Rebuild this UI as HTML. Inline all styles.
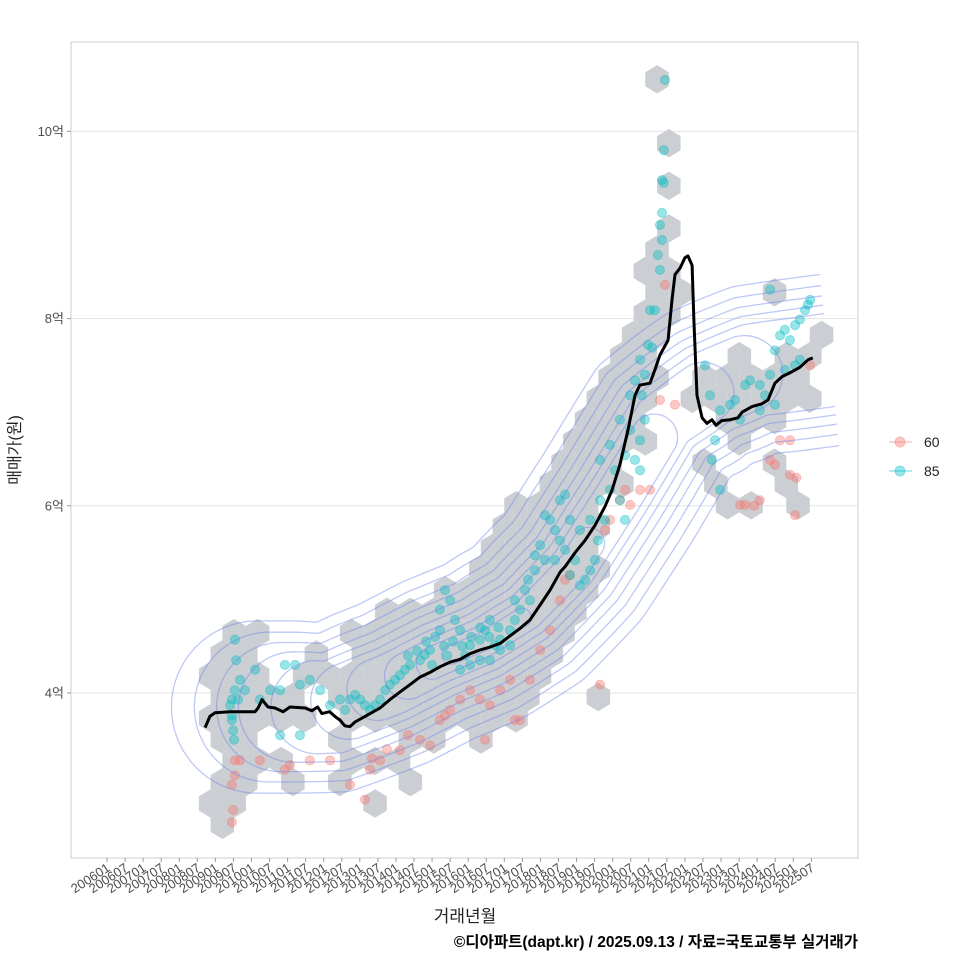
<!DOCTYPE html>
<html><head><meta charset="utf-8">
<style>
html,body{margin:0;padding:0;background:#fff;}
svg{display:block;font-family:"Liberation Sans","Noto Sans CJK KR",sans-serif;}
</style></head>
<body>
<svg id="chart" width="960" height="960" viewBox="0 0 960 960" xmlns="http://www.w3.org/2000/svg">
<defs><clipPath id="clip"><rect x="71" y="42" width="787" height="816"/></clipPath></defs>
<rect x="71" y="42" width="787" height="816" fill="#fff" stroke="#cccccc" stroke-width="1"/>
<g id="grid"></g>
<g id="marks" clip-path="url(#clip)"><g id="hexes"></g><g id="pts"></g><g id="contours"></g><g id="trend"></g></g>
<g id="axes"></g>
<text transform="translate(20,450) rotate(-90)" text-anchor="middle" font-size="16" fill="#222">매매가(원)</text>
<text x="465" y="922" text-anchor="middle" font-size="17" fill="#222">거래년월</text>
<text x="858" y="947" text-anchor="end" font-size="15.5" font-weight="bold" fill="#000">©디아파트(dapt.kr) / 2025.09.13 / 자료=국토교통부 실거래가</text>
<g>
  <g>
    <line x1="889" y1="442" x2="912" y2="442" stroke="#F8766D" stroke-opacity="0.4" stroke-width="1.5"/>
    <circle cx="900" cy="442" r="5" fill="#F8766D" fill-opacity="0.4" stroke="#F8766D" stroke-opacity="0.4"/>
    <text x="924" y="447" font-size="14" fill="#222">60</text>
  </g>
  <g>
    <line x1="889" y1="471" x2="912" y2="471" stroke="#00BFC4" stroke-opacity="0.4" stroke-width="1.5"/>
    <circle cx="900" cy="471" r="5" fill="#00BFC4" fill-opacity="0.4" stroke="#00BFC4" stroke-opacity="0.4"/>
    <text x="924" y="476" font-size="14" fill="#222">85</text>
  </g>
</g>
</svg>
<script>
// ---- data (months since 2006-01, price in 억) ----
const yTicks = [4, 6, 8, 10];
const yTickLabels = ["4억", "6억", "8억", "10억"];
const xTickMonths = Array.from({length: 40}, (_, i) => i * 6);
const xTickLabels = xTickMonths.map(m => String(2006 + Math.floor(m / 12)) + (m % 12 === 0 ? "01" : "07"));

const trendM = [32.6,34.2,35.9,40.9,49.2,50.2,51.5,53.5,55.8,58.5,60.8,65.8,68,70,71.4,74,75.7,77.4,79,80.7,82.4,85.7,90.7,94,97.3,100.7,104,107.3,110.6,114,117.3,120.6,124,127.2,130.6,133.9,137.2,140.5,143.9,147.2,150.5,152.2,155.5,158.8,162.1,165.4,167.8,170.4,173.1,175.4,177,180.4,182,183.7,186.4,187.7,188.7,190.4,192,193,194.4,195,196,197.7,199.3,201,202.3,204.3,207,209.6,211,214.3,217.6,219.6,221.9,224.3,226.8,230.2,232.9,234.5];
const trendV = [3.63,3.75,3.79,3.80,3.80,3.84,3.93,3.85,3.84,3.80,3.85,3.84,3.81,3.85,3.78,3.80,3.75,3.71,3.65,3.64,3.69,3.75,3.84,3.93,4.01,4.09,4.17,4.22,4.28,4.33,4.36,4.42,4.46,4.49,4.53,4.61,4.69,4.78,4.94,5.10,5.29,5.35,5.50,5.63,5.79,5.99,6.17,6.44,6.81,7.18,7.29,7.31,7.45,7.61,7.77,8.20,8.47,8.54,8.65,8.67,8.57,7.98,7.18,6.94,6.88,6.92,6.86,6.91,6.92,6.94,7.00,7.06,7.09,7.13,7.31,7.38,7.42,7.48,7.56,7.58];

const p85M = [185.4,185,184.4,185,183.7,184.4,183,183.7,184.4,180.4,182,179.7,181.1,177.1,178.7,175.4,177.7,173.8,178.7,177.1,173.8,172.1,175.4,177.1,168.8,167.1,170.4,172.1,
198.7,208.6,207,212,213.6,216.9,218.6,220.3,221.9,223.6,225.2,226.9,228.6,230.2,231.9,232.9,233.6,230.2,228.6,225.2,221.9,220.3,203.7,202,201,203.7,200.3,216.9,210.3,
163.8,165.4,163.1,162.1,160.5,158.8,157.1,155.5,153.8,152.2,150.5,148.8,147.2,145.5,150.5,152.2,143.9,142.2,139.9,140.5,137.2,135.5,133.9,130.6,128.9,127.2,125.6,123.9,120.6,117.3,115.6,114,112.3,110.6,110.6,107.3,105.6,104,100.7,99,97.3,95.7,94,92.4,90.7,89,87.4,85.7,84.1,82.4,80.7,79.1,77.4,74.1,70.8,67.4,64.1,62.5,59.1,57.5,54.2,50.8,49.2,45.8,44.2,42.5,41.5,41.5,41.9,42.5,42.9,43.5,40.9,41.5,42.2,64.1,57.5,117.3,120.6,123.9,127.2,130.6,133.9,135.5,138.9,142.2,145.5,148.8,153.8,157.1,160.5,163.8,167.1,170.4,
100,103,106,109,112,115,118,121,124,127,130,113,108,119];
const p85V = [10.55,9.80,9.48,9.45,9.00,8.84,8.68,8.52,9.13,8.09,8.09,7.72,7.69,7.56,7.40,7.34,7.18,7.18,6.92,6.70,6.81,6.54,6.49,6.38,6.38,6.17,6.06,5.85,
7.50,7.13,7.08,7.29,7.34,7.29,7.18,7.40,7.66,7.82,7.88,7.77,7.93,7.99,8.09,8.15,8.20,7.56,7.50,7.45,7.08,8.31,7.02,6.70,6.49,6.17,7.18,7.02,6.92,
6.06,5.85,5.63,5.42,5.31,5.21,5.15,5.42,5.26,5.53,5.63,5.74,5.85,5.90,6.06,6.12,5.58,5.47,5.21,4.99,4.89,4.78,4.67,4.57,4.51,4.78,4.67,4.57,4.51,4.67,4.78,4.99,5.10,4.89,4.67,4.46,4.41,4.35,4.30,4.25,4.19,4.14,4.09,4.03,3.93,3.87,3.82,3.87,3.93,3.98,3.93,3.82,3.93,3.87,4.03,4.14,4.09,4.30,4.30,4.03,4.03,3.93,4.25,4.03,4.14,4.03,3.93,3.76,3.60,4.57,4.35,3.93,3.87,3.71,3.50,3.55,3.55,4.25,4.30,4.35,4.35,4.46,4.51,4.99,5.10,5.31,5.42,5.42,5.85,5.74,5.85,6.49,6.65,6.92,
4.40,4.45,4.55,4.60,4.50,4.55,4.50,4.60,4.70,4.60,4.70,4.40,4.30,4.40];

const p60M = [41.9,41.5,42.5,44.2,41.5,42.5,50.8,59.1,60.8,67.4,74.1,80.7,85.7,87.4,90.7,97.3,104,107.3,110.6,112.3,114,117.3,120.6,123.9,125.6,127.2,130.6,133.9,135.5,137.2,140.5,143.9,147.2,150.5,152.2,153.8,163.8,165.4,167.1,170.4,172.1,173.8,177.1,180.4,185.4,183.7,188.7,210.3,212,216.9,220.3,221.9,223.6,226.9,228.6,226.9,233.6,215,229,100,93,88];
const p60V = [2.75,2.62,3.28,3.28,3.02,3.12,3.28,3.18,3.23,3.28,3.28,3.02,2.86,3.18,3.28,3.39,3.50,3.44,3.71,3.76,3.82,3.93,4.03,3.93,3.50,3.87,4.03,4.14,3.71,3.71,4.14,4.46,4.67,4.99,5.21,5.26,4.09,5.74,5.85,6.06,6.17,6.01,6.17,6.17,8.36,7.13,7.08,6.01,6.01,6.06,6.49,6.44,6.70,6.70,5.90,6.33,7.50,6.00,6.30,3.55,3.40,3.30];

// hexbin cells: row index -> occupied column indices
const hexRowIdx = [0,3,5,7,8,9,10,11,12,13,14,15,16,17,18,19,20,21,22,23,24,25,26,27,28,29,30,31,32,33,34,35];
const hexRowCols = [[19],[19],[19],[19],[19],[18,19],[19,20,24],[18,19],[18,19,26],[17,18,22,24,25],[17,18,19,21,22,23,24,25],[16,17,18,20,21,22,23,24,25],[16,17,18,22,23,24],[15,16,17,18,22],[15,16,17,21,24],[14,15,16,17,21,24],[13,14,15,16,22,23,25],[12,13,14,15,16],[12,13,14,15,16],[11,12,13,14,15,16],[10,11,12,13,14,15,16],[7,8,9,10,11,12,13,14,15],[1,2,6,7,8,9,10,11,12,13,14,15],[0,1,4,6,7,8,9,10,11,12,13,14],[0,1,2,4,5,6,7,8,9,10,11,12,13,14],[0,1,2,3,5,6,7,8,9,10,11,12,13,16],[0,1,2,3,4,6,7,8,9,10,11,12,13],[0,1,5,8,9,11],[1,2,3,6,7,8],[0,1,3,5,8],[0,1,7],[0]];
const hexOriginM = 34.42, hexOriginV = 10.557, hexBinM = 7.807, hexBinV = 0.22756;

// density contours: ridge + levels (half-width in 억, cap-centre month, right end month)
const ridgeM = [0,25,50,75,95,110,125,140,155,170,185,200,215,250];
const ridgeV = [3.85,3.85,3.85,3.85,4.1,4.35,4.55,4.85,5.35,6.1,6.9,7.25,7.45,7.6];
const levelHalfW = [0.92,0.80,0.69,0.59,0.50,0.41,0.33,0.25,0.17,0.10];
const levelCapM  = [50,53,57,62,70,80,90,100,108,114];
const levelRight = [240,240,240,240,240,212,198,182,160,138];

// ---- scales ----
const X = m => 107 + 3.01 * m;
const Y = v => 693 - 93.6 * (v - 4);
const NS = "http://www.w3.org/2000/svg";
function mk(tag, attrs, parent){ const e = document.createElementNS(NS, tag); for (const k in attrs) e.setAttribute(k, attrs[k]); parent.appendChild(e); return e; }

// grid + y axis
const grid = document.getElementById('grid'), axes = document.getElementById('axes');
yTicks.forEach((v, i) => {
  const gl = mk('line', {x1:71, x2:858, y1:Y(v), y2:Y(v), stroke:'#e3e3e3', 'stroke-width':1}, grid);
  
  
  const tk = mk('line', {x1:67, x2:71, y1:Y(v), y2:Y(v), stroke:'#999'}, axes);
  
  
  const t = mk('text', {x:64, y:Y(v)+4.5, 'text-anchor':'end', 'font-size':13, fill:'#4d4d4d'}, axes);
  t.textContent = yTickLabels[i];
  
  
});
// x axis
xTickMonths.forEach((m, i) => {
  const tk = mk('line', {x1:X(m), x2:X(m), y1:858, y2:862, stroke:'#999'}, axes);
  
  
  const t = mk('text', {transform:`translate(${X(m)+4},${870}) rotate(-33)`, 'text-anchor':'end', 'font-size':13, fill:'#4d4d4d'}, axes);
  t.textContent = xTickLabels[i];
  
  
});

// hexes
const hexG = document.getElementById('hexes');
const hw = 11.75, hr = 14.2;
hexRowIdx.forEach((k, ri) => {
  hexRowCols[ri].forEach(c => {
    const m = hexOriginM + hexBinM * (c + (k % 2 ? 0.5 : 0));
    const v = hexOriginV - hexBinV * k;
    const cx = X(m), cy = Y(v);
    const pts = [[0,-hr],[hw,-hr/2],[hw,hr/2],[0,hr],[-hw,hr/2],[-hw,-hr/2]].map(p => (cx+p[0]).toFixed(1)+','+(cy+p[1]).toFixed(1)).join(' ');
    const h = mk('polygon', {points:pts, fill:'#c8cbd0', 'fill-opacity':0.95}, hexG);
    
    
  });
});

// points
const ptG = document.getElementById('pts');
function drawPts(M, V, col, name){
  M.forEach((m, i) => {
    const c = mk('circle', {cx:X(m), cy:Y(V[i]), r:4.6, fill:col, 'fill-opacity':0.4, stroke:col, 'stroke-opacity':0.35}, ptG);
    
    
  });
}
drawPts(p60M, p60V, '#F8766D', 'point-60');
drawPts(p85M, p85V, '#00BFC4', 'point-85');

// contours
function ridgeAt(m){
  if (m <= ridgeM[0]) return ridgeV[0];
  for (let i = 1; i < ridgeM.length; i++) if (m <= ridgeM[i]) { const t = (m - ridgeM[i-1]) / (ridgeM[i] - ridgeM[i-1]); return ridgeV[i-1] + t * (ridgeV[i] - ridgeV[i-1]); }
  return ridgeV[ridgeV.length-1];
}
function ridgePx(m){ return [X(m), Y(ridgeAt(m))]; }
function normalAt(m){
  const a = ridgePx(m - 14), b = ridgePx(m + 14);
  let tx = b[0]-a[0], ty = b[1]-a[1]; const l = Math.hypot(tx, ty);
  return [ty/l, -tx/l];
}
const conG = document.getElementById('contours');
levelHalfW.forEach((h, li) => {
  const L = levelCapM[li], R = levelRight[li];
  const open = R >= 236;
  const d = h * 93.6;
  const up = [], lo = [];
  const N = 140;
  for (let s = 0; s <= N; s++) {
    const m = L + (R - L) * s / N;
    const p = ridgePx(m), n = normalAt(m);
    up.push([p[0] + n[0]*d, p[1] + n[1]*d]);
    lo.push([p[0] - n[0]*d, p[1] - n[1]*d]);
  }
  const f = p => p[0].toFixed(1) + ',' + p[1].toFixed(1);
  let ds = 'M' + f(up[up.length-1]);
  for (let i = up.length - 2; i >= 0; i--) ds += ' L' + f(up[i]);
  ds += ` A${d.toFixed(1)},${d.toFixed(1)} 0 0 0 ${f(lo[0])}`;
  for (let i = 1; i < lo.length; i++) ds += ' L' + f(lo[i]);
  if (!open) ds += ` A${d.toFixed(1)},${d.toFixed(1)} 0 0 0 ${f(up[up.length-1])} Z`;
  const c = mk('path', {d:ds, fill:'none', stroke:'#6f86ea', 'stroke-opacity':0.45, 'stroke-width':1.3, 'stroke-linejoin':'round'}, conG);
  
  
});

// trend line
const tr = mk('polyline', {points: trendM.map((m, i) => X(m).toFixed(1) + ',' + Y(trendV[i]).toFixed(1)).join(' '), fill:'none', stroke:'#000', 'stroke-width':3, 'stroke-linejoin':'round'}, document.getElementById('trend'));


</script>
</body></html>
